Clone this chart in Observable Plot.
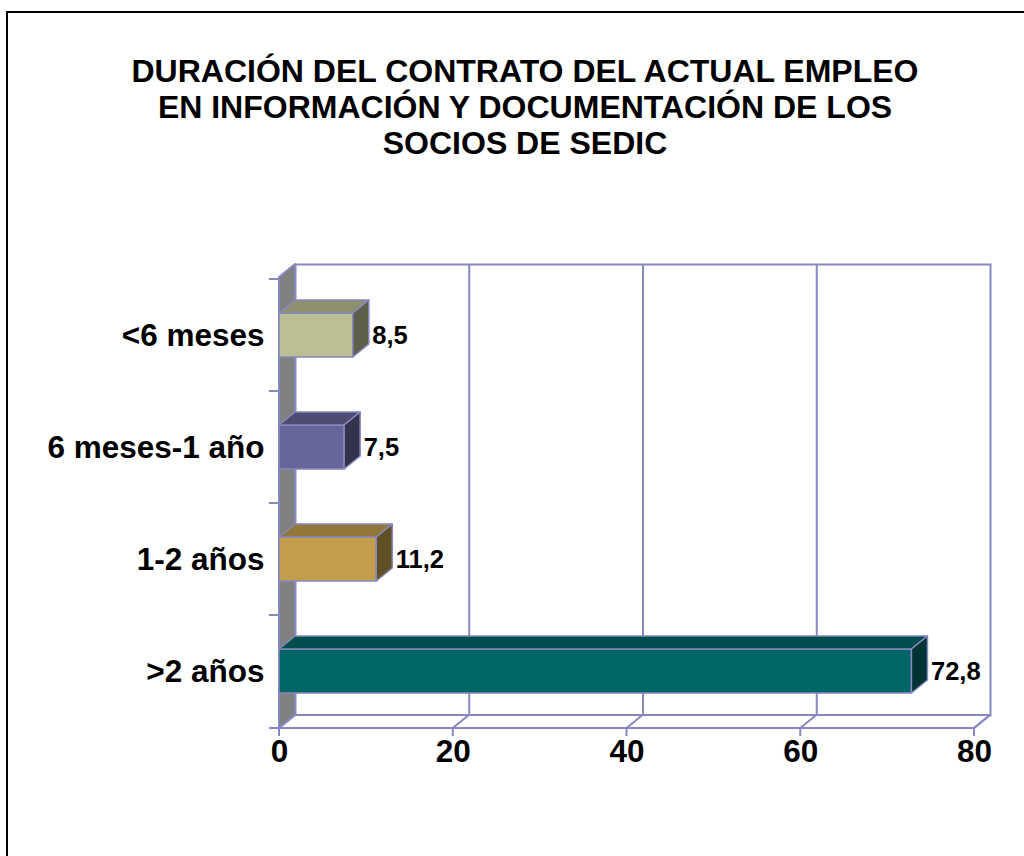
<!DOCTYPE html>
<html><head><meta charset="utf-8">
<script src="https://cdn.jsdelivr.net/npm/d3@7"></script>
<script src="https://cdn.jsdelivr.net/npm/@observablehq/plot@0.6"></script>
<style>
html,body{margin:0;padding:0;background:#fff;overflow:hidden;}
#page{position:relative;width:1024px;height:856px;overflow:hidden;font-family:Arial,"Liberation Sans",sans-serif;background:#fff;}
#border{position:absolute;left:6px;top:11px;width:1100px;height:1000px;border:2px solid #000;box-sizing:border-box;}
#title{position:absolute;left:13px;width:1024px;top:53px;text-align:center;font-weight:bold;font-size:32px;line-height:36px;color:#000;}
#title div{white-space:nowrap;}
#chart{position:absolute;left:0;top:180px;}
</style></head>
<body>
<div id="page">
  <div id="border"></div>
  <div id="title">
    <div>DURACIÓN DEL CONTRATO DEL ACTUAL EMPLEO</div>
    <div>EN INFORMACIÓN Y DOCUMENTACIÓN DE LOS</div>
    <div>SOCIOS DE SEDIC</div>
  </div>
  <div id="chart"></div>
</div>
<script>
const categories = ["<6 meses", "6 meses-1 año", "1-2 años", ">2 años"];
const values = [8.5, 7.5, 11.2, 72.8];
const valueLabels = ["8,5", "7,5", "11,2", "72,8"];
const xTicks = [0, 20, 40, 60, 80];
const barColors = ["#BCBE94", "#666699", "#C29E4C", "#006666"];

const LAV = "#8888C0";
const DX = 16, DY = 13, INSET = 34;
const W = 1024, H = 676, ML = 279, MR = 50, MT = 97, MB = 128;
const FONT = "Arial, 'Liberation Sans', sans-serif";

const data = categories.map((c, i) => ({category: c, value: values[i], label: valueLabels[i]}));

const chart = Plot.plot({
  width: W, height: H, marginLeft: ML, marginRight: MR, marginTop: MT, marginBottom: MB,
  style: {background: "transparent", fontFamily: FONT, overflow: "visible"},
  x: {domain: [0, 80], axis: null},
  y: {domain: categories, axis: null, padding: 0},
  color: {domain: categories, range: barColors},
  marks: [
    Plot.frame({dx: DX, dy: -DY, stroke: LAV, strokeWidth: 2}),
    Plot.ruleX(xTicks.slice(1, -1), {dx: DX, dy: -DY, stroke: LAV, strokeWidth: 2}),
    Plot.barX(data, {x: "value", y: "category", fill: "category", insetTop: INSET, insetBottom: INSET, stroke: LAV, strokeWidth: 1.5}),
    Plot.text(categories, {y: d => d, text: d => d, frameAnchor: "left", textAnchor: "end", dx: -15, fontSize: 31.5, fontWeight: "bold", fill: "#000"}),
    Plot.text(xTicks, {x: d => d, text: d => String(d), frameAnchor: "bottom", dy: 33, fontSize: 31.5, fontWeight: "bold", fill: "#000"}),
    Plot.text(data, {x: "value", y: "category", text: "label", textAnchor: "start", dx: DX + 3, fontSize: 25.5, fontWeight: "bold", fill: "#000"})
  ]
});

const xs = chart.scale("x"), ys = chart.scale("y");
const X = v => xs.apply(v);
const bw = ys.bandwidth;
const T = MT, B = H - MB;
const poly = pts => "M" + pts.map(p => p.join(",")).join("L") + "Z";
const shade = (c, k) => { const r = d3.rgb(c); return d3.rgb(r.r * k, r.g * k, r.b * k).formatHex(); };

const barG = chart.querySelector('[aria-label="bar"]');
// walls, floor, axes
const bg = d3.create("svg:g");
chart.insertBefore(bg.node(), barG);
const x0 = X(0), x80 = X(80);
bg.append("path").attr("d", poly([[x0, T], [x0 + DX, T - DY], [x0 + DX, B - DY], [x0, B]]))
  .attr("fill", "#808080").attr("stroke", LAV).attr("stroke-width", 2).attr("stroke-linejoin", "round");
bg.append("path").attr("d", poly([[x0, B], [x0 + DX, B - DY], [x80 + DX, B - DY], [x80, B]]))
  .attr("fill", "#fff").attr("stroke", LAV).attr("stroke-width", 2).attr("stroke-linejoin", "round");
xTicks.forEach(t => {
  bg.append("line").attr("x1", X(t)).attr("y1", B).attr("x2", X(t) + DX).attr("y2", B - DY).attr("stroke", LAV).attr("stroke-width", 2);
  bg.append("line").attr("x1", X(t)).attr("y1", B).attr("x2", X(t)).attr("y2", B + 8).attr("stroke", LAV).attr("stroke-width", 2);
});
bg.append("line").attr("x1", x0 - 10).attr("y1", B).attr("x2", x80).attr("y2", B).attr("stroke", LAV).attr("stroke-width", 2);
bg.append("line").attr("x1", x0).attr("y1", T).attr("x2", x0).attr("y2", B).attr("stroke", LAV).attr("stroke-width", 2);
categories.forEach(c => {
  const yy = ys.apply(c);
  bg.append("line").attr("x1", x0 - 10).attr("y1", yy).attr("x2", x0).attr("y2", yy).attr("stroke", LAV).attr("stroke-width", 2);
});

// 3D faces of bars
const fg = d3.create("svg:g");
barG.after(fg.node());
data.forEach((d, i) => {
  const a = X(0), b = X(d.value);
  const yt = ys.apply(d.category) + INSET, yb = ys.apply(d.category) + bw - INSET;
  fg.append("path").attr("d", poly([[a, yt], [b, yt], [b + DX, yt - DY], [a + DX, yt - DY]]))
    .attr("fill", shade(barColors[i], 0.75)).attr("stroke", LAV).attr("stroke-width", 1.5).attr("stroke-linejoin", "round");
  fg.append("path").attr("d", poly([[b, yt], [b + DX, yt - DY], [b + DX, yb - DY], [b, yb]]))
    .attr("fill", shade(barColors[i], 0.5)).attr("stroke", LAV).attr("stroke-width", 1.5).attr("stroke-linejoin", "round");
});

document.getElementById("chart").appendChild(chart);
</script>
</body></html>
